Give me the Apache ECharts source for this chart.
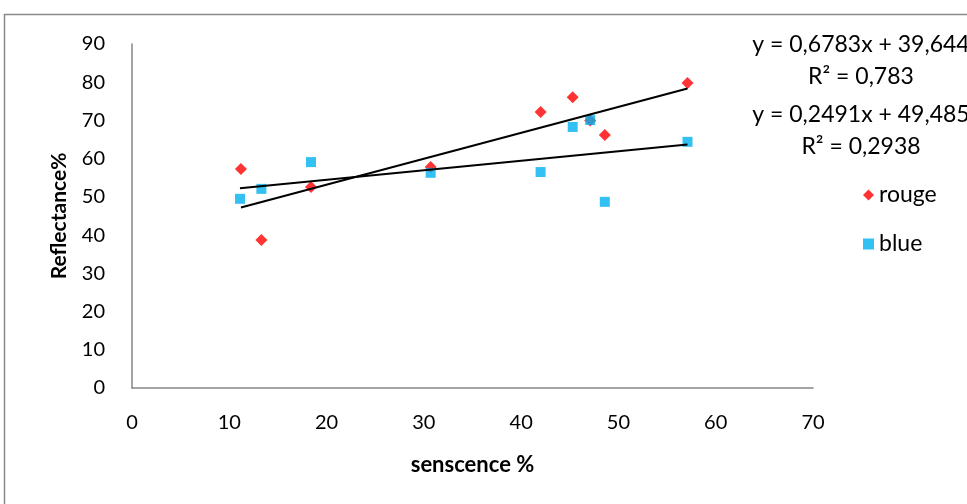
<!DOCTYPE html>
<html>
<head>
<meta charset="utf-8">
<script src="https://cdn.jsdelivr.net/npm/echarts@6/dist/echarts.min.js"></script>
<style>
  html, body { margin: 0; padding: 0; background: #fff; }
  #chart { width: 967px; height: 504px; }
</style>
</head>
<body>
<div id="chart"></div>
<script>
// senscence % (x) and Reflectance% (y)
const rougeX = [11.2, 13.3, 18.4, 30.7, 42.0, 45.3, 47.1, 48.6, 57.1];
const rougeY = [57.3, 38.7, 52.6, 57.8, 72.2, 76.1, 70.0, 66.2, 79.8];
const blueX = [11.1, 13.3, 18.4, 30.7, 42.0, 45.3, 47.1, 48.6, 57.1];
const blueY = [49.5, 52.1, 59.1, 56.3, 56.5, 68.3, 70.1, 48.7, 64.4];

// trendline coefficients, as printed on the chart
const rougeFit = [0.6783, 39.644];
const blueFit = [0.2491, 49.485];
const eqLabels = ['y = 0,6783x + 39,644', 'R² = 0,783', 'y = 0,2491x + 49,485', 'R² = 0,2938'];

const font = 'Lato, "Noto Sans", sans-serif';

let pairs = (xs, ys) => xs.map((x, i) => [x, ys[i]]);
let trend = (xs, fit) => {
    let a = Math.min(...xs), b = Math.max(...xs);
    return [[a, fit[0] * a + fit[1]], [b, fit[0] * b + fit[1]]];
};

let myChart = echarts.init(document.getElementById('chart'));
let option = {
    animation: false,
    grid: { left: 132, top: 44, right: 154, bottom: 116 },
    legend: {
        data: ['rouge', 'blue'],
        orient: 'vertical',
        left: 858,
        top: 178,
        itemWidth: 11,
        itemHeight: 11,
        itemGap: 25,
        textStyle: { fontFamily: font, fontSize: 23, color: '#000', lineHeight: 24 }
    },
    xAxis: {
        type: 'value',
        min: 0, max: 70, interval: 10,
        name: 'senscence %',
        nameLocation: 'middle',
        nameGap: 66,
        nameTextStyle: { fontFamily: font, fontSize: 22, fontWeight: 'bold', color: '#000' },
        axisLine: { show: true, lineStyle: { color: '#868686', width: 1.5 } },
        axisTick: { show: false },
        splitLine: { show: false },
        axisLabel: { fontFamily: font, fontSize: 20, color: '#000', margin: 25 }
    },
    yAxis: {
        type: 'value',
        min: 0, max: 90, interval: 10,
        name: 'Reflectance%',
        nameLocation: 'middle',
        nameGap: 62,
        nameTextStyle: { fontFamily: font, fontSize: 21, fontWeight: 'bold', color: '#000' },
        axisLine: { show: true, lineStyle: { color: '#868686', width: 1.5 } },
        axisTick: { show: false },
        splitLine: { show: false },
        axisLabel: { fontFamily: font, fontSize: 20, color: '#000', margin: 27 }
    },
    series: [
        {
            name: 'rouge',
            type: 'scatter',
            symbol: 'diamond',
            symbolSize: 12,
            itemStyle: { color: '#ff0000' },
            data: pairs(rougeX, rougeY),
            z: 3
        },
        {
            name: 'blue',
            type: 'scatter',
            symbol: 'rect',
            symbolSize: 10,
            itemStyle: { color: '#00b0f0' },
            data: pairs(blueX, blueY),
            z: 4
        },
        {
            name: 'rougeTrend',
            type: 'line',
            data: trend(rougeX, rougeFit),
            showSymbol: false,
            lineStyle: { color: '#000', width: 2 },
            z: 5
        },
        {
            name: 'blueTrend',
            type: 'line',
            data: trend(blueX, blueFit),
            showSymbol: false,
            lineStyle: { color: '#000', width: 2 },
            z: 5
        }
    ],
    graphic: [
        {
            type: 'rect',
            shape: { x: 4.5, y: 14.5, width: 1100, height: 600 },
            style: { fill: 'none', stroke: '#888', lineWidth: 1.5 },
            silent: true
        },
        ...eqLabels.map((t, i) => ({
            type: 'text',
            x: 861, y: [45, 77, 115, 147][i],
            style: {
                text: t,
                align: 'center', verticalAlign: 'middle',
                font: '23px ' + font, fill: '#000'
            }
        }))
    ]
};
option && myChart.setOption(option);
window.addEventListener('resize', function () {
    myChart.resize();
});
</script>
</body>
</html>
